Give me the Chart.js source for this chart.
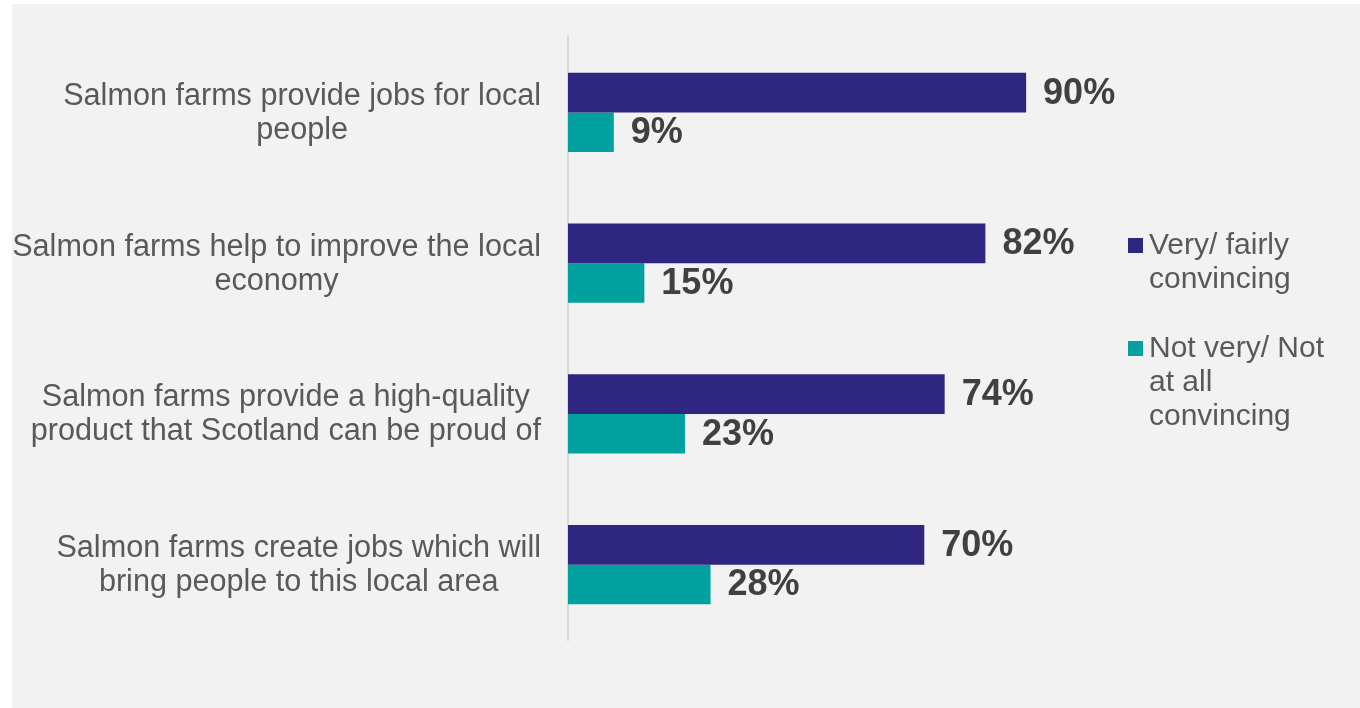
<!DOCTYPE html>
<html>
<head>
<meta charset="utf-8">
<script src="https://cdn.jsdelivr.net/npm/chart.js@4"></script>
<style>
  html, body { margin: 0; padding: 0; background: #ffffff; }
  #wrap { position: absolute; left: 0; top: 0; width: 1360px; height: 708px; }
</style>
</head>
<body>
<div id="wrap"><canvas id="c" width="1360" height="708"></canvas></div>
<script>
// Statements shown to respondents (wrapped onto two lines each)
const statements = [
  ["Salmon farms provide jobs for local", "people"],
  ["Salmon farms help to improve the local", "economy"],
  ["Salmon farms provide a high-quality", "product that Scotland can be proud of"],
  ["Salmon farms create jobs which will", "bring people to this local area"]
];
const seriesNames = ["Very/ fairly convincing", "Not very/ Not at all convincing"];
const convincing = [90, 82, 74, 70];
const notConvincing = [9, 15, 23, 28];
const seriesColors = ["#2E2680", "#00A19F"];

const FONT = "'Liberation Sans', Arial, sans-serif";

// Grey panel behind the chart
const panel = {
  id: 'panel',
  beforeDraw(chart) {
    const ctx = chart.ctx;
    ctx.save();
    ctx.fillStyle = '#ffffff';
    ctx.fillRect(0, 0, chart.width, chart.height);
    ctx.fillStyle = '#f2f2f2';
    ctx.fillRect(12, 4, chart.width - 12, chart.height - 4);
    ctx.restore();
  }
};

// Category labels: each block right-aligned to the axis, lines centred within the block
const categoryLabels = {
  id: 'categoryLabels',
  afterDraw(chart) {
    const ctx = chart.ctx;
    const yScale = chart.scales.y;
    const right = chart.chartArea.left - 27;
    const lineH = 34;
    ctx.save();
    ctx.font = "30.6px " + FONT;
    ctx.fillStyle = '#595959';
    ctx.textAlign = 'center';
    ctx.textBaseline = 'middle';
    chart.data.labels.forEach((lines, i) => {
      const cy = yScale.getPixelForTick(i) + 1;
      const widest = Math.max(...lines.map(l => ctx.measureText(l).width));
      const cx = right - widest / 2;
      const y0 = cy - (lines.length - 1) * lineH / 2;
      lines.forEach((l, k) => ctx.fillText(l, cx, y0 + k * lineH));
    });
    ctx.restore();
  }
};

// Percentage labels to the right of each bar
const valueLabels = {
  id: 'valueLabels',
  afterDatasetsDraw(chart) {
    const ctx = chart.ctx;
    ctx.save();
    ctx.font = "bold 36px " + FONT;
    ctx.fillStyle = '#404040';
    ctx.textAlign = 'left';
    ctx.textBaseline = 'middle';
    chart.data.datasets.forEach((ds, di) => {
      chart.getDatasetMeta(di).data.forEach((bar, i) => {
        ctx.fillText(ds.data[i] + '%', bar.x + 17, bar.y + 1);
      });
    });
    ctx.restore();
  }
};

// Legend on the right with word-wrapped entries
const sideLegend = {
  id: 'sideLegend',
  afterDraw(chart) {
    const ctx = chart.ctx;
    ctx.save();
    ctx.font = "30px " + FONT;
    ctx.textBaseline = 'middle';
    ctx.textAlign = 'left';
    const boxX = 1128, textX = 1149, maxW = 185, lineH = 34;
    const starts = [246, 349];
    chart.data.datasets.forEach((ds, di) => {
      const words = ds.label.split(' ');
      const lines = [];
      let cur = '';
      words.forEach(w => {
        const t = cur ? cur + ' ' + w : w;
        if (cur && ctx.measureText(t).width > maxW) { lines.push(cur); cur = w; }
        else cur = t;
      });
      if (cur) lines.push(cur);
      const y0 = starts[di];
      ctx.fillStyle = ds.backgroundColor;
      ctx.fillRect(boxX, y0 - 8, 15, 15);
      ctx.fillStyle = '#595959';
      lines.forEach((ln, k) => ctx.fillText(ln, textX, y0 + k * lineH));
    });
    ctx.restore();
  }
};

new Chart(document.getElementById('c'), {
  type: 'bar',
  data: {
    labels: statements,
    datasets: [
      { label: seriesNames[0], data: convincing, backgroundColor: seriesColors[0],
        categoryPercentage: 0.525, barPercentage: 1.0 },
      { label: seriesNames[1], data: notConvincing, backgroundColor: seriesColors[1],
        categoryPercentage: 0.525, barPercentage: 1.0 }
    ]
  },
  options: {
    indexAxis: 'y',
    responsive: false,
    animation: false,
    layout: { padding: { left: 0, top: 37, right: 283, bottom: 68 } },
    plugins: {
      legend: { display: false },
      tooltip: { enabled: false }
    },
    scales: {
      x: { display: false, min: 0, max: 100 },
      y: {
        grid: { display: false, drawTicks: false },
        border: { display: true, color: '#d9d9d9', width: 2 },
        ticks: { display: false },
        afterFit(scale) {
          scale.width = 568;
          scale.paddingTop = 0;
          scale.paddingBottom = 0;
        }
      }
    }
  },
  plugins: [panel, categoryLabels, valueLabels, sideLegend]
});
</script>
</body>
</html>
